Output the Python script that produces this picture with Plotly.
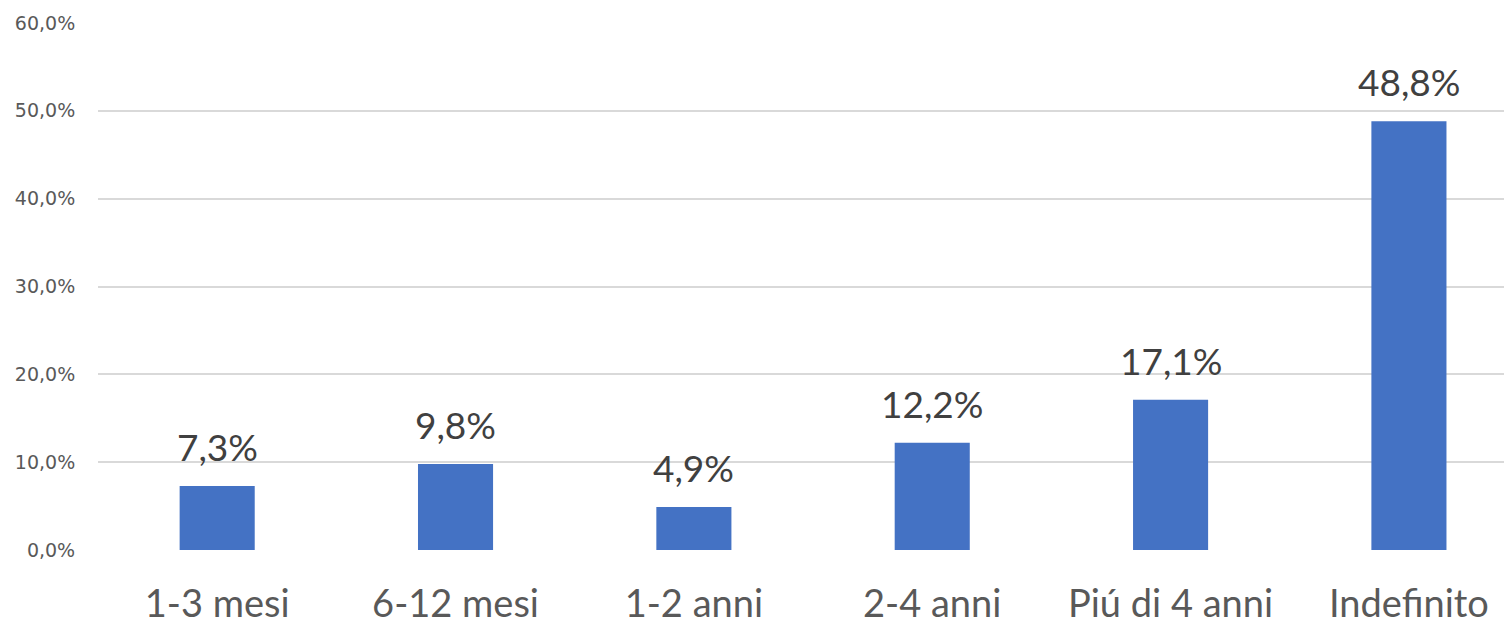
import plotly.graph_objects as go

categories = ["1-3 mesi", "6-12 mesi", "1-2 anni", "2-4 anni", "Piú di 4 anni", "Indefinito"]
values = [7.3, 9.8, 4.9, 12.2, 17.1, 48.8]
tick_vals = [0, 10, 20, 30, 40, 50, 60]
tick_text = ["0,0%", "10,0%", "20,0%", "30,0%", "40,0%", "50,0%", "60,0%"]
labels = [f"{v:.1f}%".replace(".", ",") for v in values]

fig = go.Figure()
fig.add_trace(go.Bar(
    x=list(range(len(categories))), y=values,
    marker=dict(color="#4472C4", line=dict(width=0)),
    width=0.315,
))
for i, (v, t) in enumerate(zip(values, labels)):
    fig.add_annotation(x=i, y=v, text=t, showarrow=False, yanchor="bottom",
                       yshift=15, font=dict(family="Lato", size=37, color="#404040"))

fig.update_layout(
    width=1512, height=623,
    margin=dict(l=90, r=0, t=15, b=81),
    paper_bgcolor="white", plot_bgcolor="white",
    showlegend=False,
    xaxis=dict(range=[-0.5, 5.466], tickvals=list(range(len(categories))), ticktext=categories,
               showgrid=False, zeroline=False, showline=False,
               ticks="outside", ticklen=20, tickcolor="rgba(0,0,0,0)",
               tickfont=dict(family="Lato", size=38, color="#595959")),
    yaxis=dict(range=[0, 60], tickvals=tick_vals, ticktext=tick_text,
               showgrid=True, gridcolor="#d9d9d9", gridwidth=1.5,
               zeroline=False, showline=False,
               ticks="outside", ticklen=18, tickcolor="rgba(0,0,0,0)",
               tickfont=dict(family="DejaVu Sans", size=19, color="#595959")),
)
fig.write_html("out.html")
